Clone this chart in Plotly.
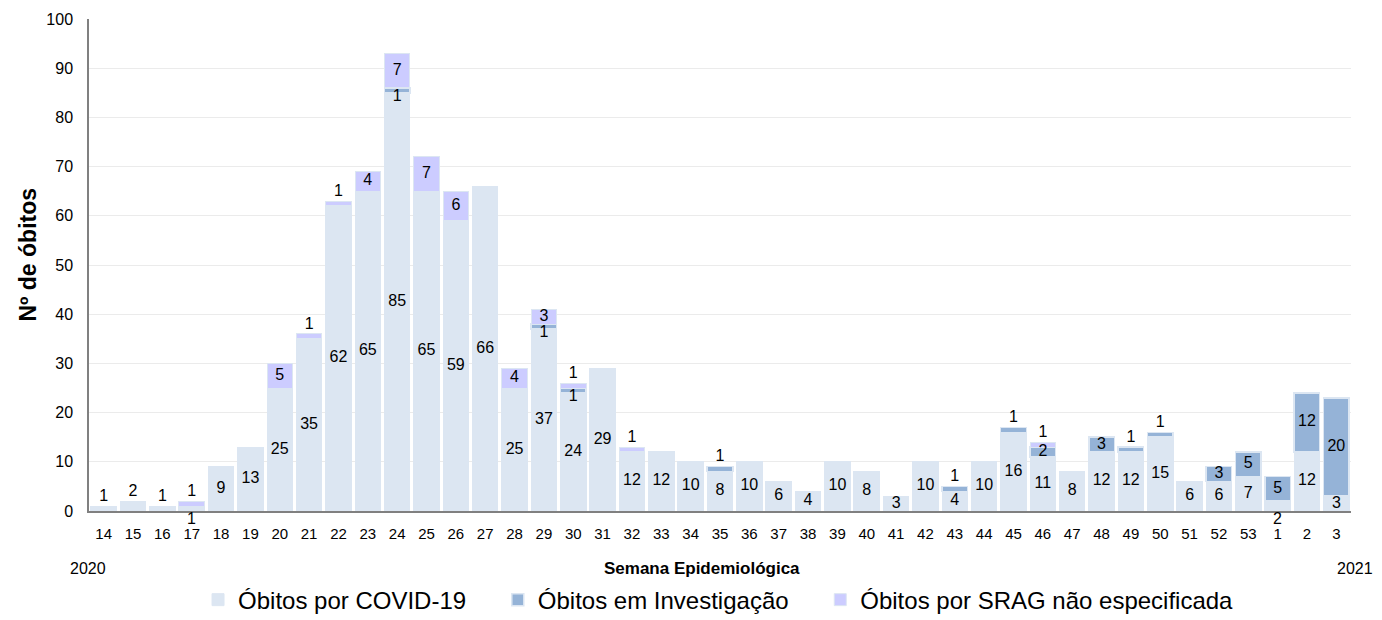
import plotly.graph_objects as go

weeks = ["14", "15", "16", "17", "18", "19", "20", "21", "22", "23", "24", "25", "26", "27",
         "28", "29", "30", "31", "32", "33", "34", "35", "36", "37", "38", "39", "40", "41",
         "42", "43", "44", "45", "46", "47", "48", "49", "50", "51", "52", "53", "1", "2", "3"]
covid = [1, 2, 1, 1, 9, 13, 25, 35, 62, 65, 85, 65, 59, 66,
         25, 37, 24, 29, 12, 12, 10, 8, 10, 6, 4, 10, 8, 3,
         10, 4, 10, 16, 11, 8, 12, 12, 15, 6, 6, 7, 2, 12, 3]
invest = [0, 0, 0, 0, 0, 0, 0, 0, 0, 0, 1, 0, 0, 0,
          0, 1, 1, 0, 0, 0, 0, 1, 0, 0, 0, 0, 0, 0,
          0, 1, 0, 1, 2, 0, 3, 1, 1, 0, 3, 5, 5, 12, 20]
srag = [0, 0, 0, 1, 0, 0, 5, 1, 1, 4, 7, 7, 6, 0,
        4, 3, 1, 0, 1, 0, 0, 0, 0, 0, 0, 0, 0, 0,
        0, 0, 0, 0, 1, 0, 0, 0, 0, 0, 0, 0, 0, 0, 0]
series_names = ["Óbitos por COVID-19", "Óbitos em Investigação", "Óbitos por SRAG não especificada"]

C_COVID = "#DCE6F2"
C_INV = "#95B3D7"
C_SRAG = "#CCCCFF"
FONT = "Liberation Sans"
PAD = "&nbsp;" * 4  # extra spacing between legend entries

fig = go.Figure()
fig.add_trace(go.Bar(x=weeks, y=covid, name=series_names[0] + PAD,
                     marker=dict(color=C_COVID, line=dict(color=C_COVID, width=1))))
fig.add_trace(go.Bar(x=weeks, y=[v if v else None for v in invest], name=series_names[1] + PAD,
                     marker=dict(color=C_INV, line=dict(color=C_COVID, width=1.5))))
fig.add_trace(go.Bar(x=weeks, y=[v if v else None for v in srag], name=series_names[2],
                     marker=dict(color=C_SRAG, line=dict(color=C_COVID, width=1))))

# data labels, positioned from the data values
lx, ly, lt = [], [], []
below = []  # labels shown just under the axis (small first segment of a stacked bar)
for k, (w, c, i, s) in enumerate(zip(weeks, covid, invest, srag)):
    top = c + i + s
    if c <= 2:
        if (i + s) == 0:
            lx.append(w); ly.append(top + 1.9); lt.append(str(c))
        else:
            below.append((k, c))
    else:
        lx.append(w); ly.append(c / 2); lt.append(str(c))
    if i:
        if i >= 2:
            yy = c + i / 2
        elif s:
            yy = c - 0.9
        else:
            yy = top + 1.9
        lx.append(w); ly.append(yy); lt.append(str(i))
    if s:
        yy = c + i + s / 2 if s >= 2 else top + 1.9
        lx.append(w); ly.append(yy); lt.append(str(s))

fig.add_trace(go.Scatter(x=lx, y=ly, text=lt, mode="text", showlegend=False,
                         textfont=dict(family=FONT, size=16, color="#000000"),
                         cliponaxis=False, hoverinfo="skip"))

annotations = [
    dict(text="<b>Semana Epidemiológica</b>", xref="paper", yref="paper", x=0.486, y=-0.116,
         showarrow=False, font=dict(family=FONT, size=17), xanchor="center", yanchor="middle"),
    dict(text="2020", xref="paper", yref="paper", x=-0.001, y=-0.116,
         showarrow=False, font=dict(family=FONT, size=16), xanchor="center", yanchor="middle"),
    dict(text="2021", xref="paper", yref="paper", x=1.003, y=-0.116,
         showarrow=False, font=dict(family=FONT, size=16), xanchor="center", yanchor="middle"),
    dict(text="<b>Nº de óbitos</b>", xref="paper", yref="paper", x=-0.048, y=0.522,
         showarrow=False, textangle=-90, font=dict(family=FONT, size=23),
         xanchor="center", yanchor="middle"),
]
for k, c in below:
    # category axis: position k is the k-th week
    annotations.append(dict(text=str(c), x=k, y=0, xref="x", yref="y", showarrow=False,
                            yanchor="top", yshift=3, font=dict(family=FONT, size=16)))

fig.update_layout(
    barmode="stack", bargap=0.13,
    width=1382, height=620,
    margin=dict(l=89, r=31, t=19, b=109, autoexpand=False),
    paper_bgcolor="white", plot_bgcolor="white",
    font=dict(family=FONT, size=15, color="#000000"),
    legend=dict(orientation="h", x=0.0864, xanchor="left", y=-0.181, yanchor="middle",
                font=dict(family=FONT, size=24), traceorder="normal"),
    xaxis=dict(type="category", range=[-0.5, len(weeks) - 0.5], showline=True,
               linecolor="#808080", linewidth=2, ticks="", ticklabelstandoff=8,
               tickfont=dict(size=15), showgrid=False),
    yaxis=dict(range=[0, 100], dtick=10, showline=True, linecolor="#808080", linewidth=1.5,
               gridcolor="#EBEBEB", gridwidth=1, ticks="", tickfont=dict(size=16),
               ticklabelstandoff=11, zeroline=False),
    annotations=annotations,
)

fig.write_html("out.html", config={"displayModeBar": False},
               post_script="document.body.style.margin='0';")
